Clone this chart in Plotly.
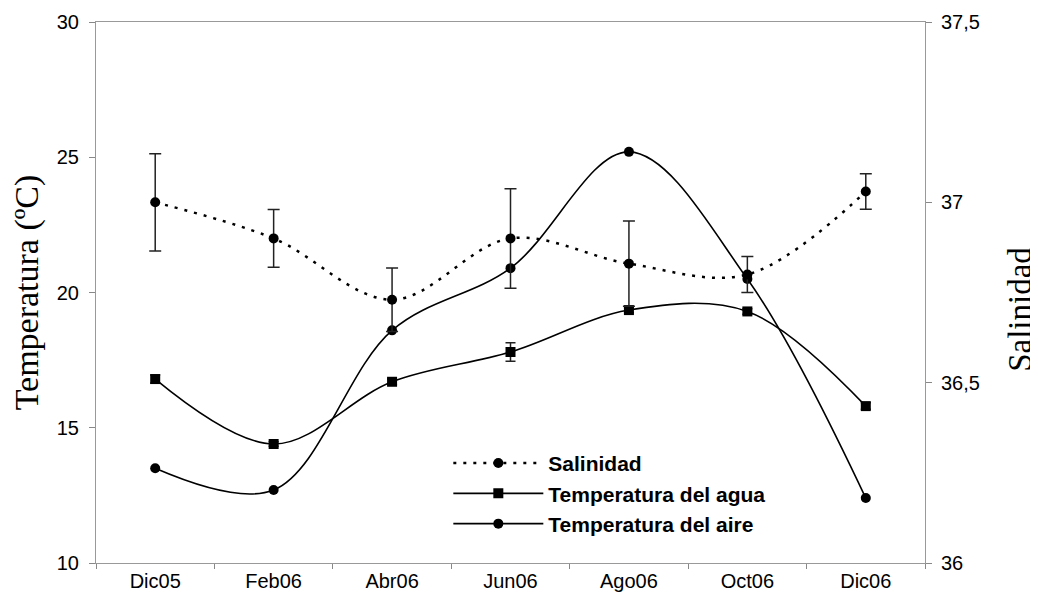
import plotly.graph_objects as go

meses = ["Dic05", "Feb06", "Abr06", "Jun06", "Ago06", "Oct06", "Dic06"]
salinidad = [37.00, 36.90, 36.73, 36.90, 36.83, 36.80, 37.03]
salinidad_err = [0.135, 0.08, 0.088, 0.138, 0.118, 0.05, 0.049]
temp_agua = [16.8, 14.4, 16.7, 17.8, 19.35, 19.3, 15.8]
temp_agua_err = [0.15, 0.08, 0.1, 0.34, 0.1, 0.1, 0.12]
temp_aire = [13.5, 12.7, 18.6, 20.9, 25.2, 20.5, 12.4]

SANS = "Liberation Sans, Arial, sans-serif"
SERIF = "Liberation Serif, Times New Roman, serif"

fig = go.Figure()

fig.add_trace(go.Scatter(
    x=meses, y=salinidad, name="Salinidad", yaxis="y2",
    mode="lines+markers", legendgroup="a",
    line=dict(color="black", width=2.5, dash="3px,7px", shape="spline", smoothing=1),
    marker=dict(symbol="circle", size=10, color="black"),
    error_y=dict(type="data", array=salinidad_err, color="#222", thickness=1.5, width=6),
))
fig.add_trace(go.Scatter(
    x=meses, y=temp_agua, name="Temperatura del agua",
    mode="lines+markers", legendgroup="b",
    line=dict(color="black", width=1.6, shape="spline", smoothing=1),
    marker=dict(symbol="square", size=10, color="black"),
    error_y=dict(type="data", array=temp_agua_err, color="#222", thickness=1.5, width=5),
))
fig.add_trace(go.Scatter(
    x=meses, y=temp_aire, name="Temperatura del aire",
    mode="lines+markers", legendgroup="c",
    line=dict(color="black", width=1.6, shape="spline", smoothing=1),
    marker=dict(symbol="circle", size=10, color="black"),
))

fig.update_layout(
    width=1030, height=592,
    margin=dict(l=88, r=113, t=14, b=37),
    paper_bgcolor="white", plot_bgcolor="white",
    separators=",.",
    showlegend=True,
    legend=dict(
        x=0.425, y=0.222, xanchor="left", yanchor="top",
        font=dict(family=SANS, size=21, color="black", weight="bold"),
        bgcolor="rgba(0,0,0,0)", itemwidth=90, tracegroupgap=0,
    ),
    xaxis=dict(
        type="category", range=[-0.5, 6.5], tickson="boundaries",
        ticks="outside", ticklen=5, tickcolor="#888",
        showline=True, linecolor="#999", linewidth=1, mirror=True,
        showgrid=False, zeroline=False, automargin=False,
        tickfont=dict(family=SANS, size=20, color="black"),
    ),
    yaxis=dict(
        range=[10, 30], dtick=5, ticks="outside", ticklen=6, tickcolor="#888",
        showline=True, linecolor="#999", linewidth=1,
        showgrid=False, zeroline=False, automargin=False, ticklabelstandoff=6,
        tickfont=dict(family=SANS, size=20, color="black"),
        title=dict(text="Temperatura (ºC)", font=dict(family=SERIF, size=34, color="black"), standoff=9),
    ),
    yaxis2=dict(
        range=[36, 37.5], dtick=0.5, overlaying="y", side="right",
        ticks="outside", ticklen=6, tickcolor="#888",
        showline=True, linecolor="#999", linewidth=1,
        showgrid=False, zeroline=False, automargin=False, ticklabelstandoff=5,
        tickfont=dict(family=SANS, size=20, color="black"),
    ),
    annotations=[dict(
        text="Salinidad", textangle=-90, showarrow=False,
        xref="paper", yref="paper", x=1.1146, y=0.468,
        xanchor="center", yanchor="middle",
        font=dict(family=SERIF, size=33, color="black"),
    )],
)

fig.write_html("out.html")
